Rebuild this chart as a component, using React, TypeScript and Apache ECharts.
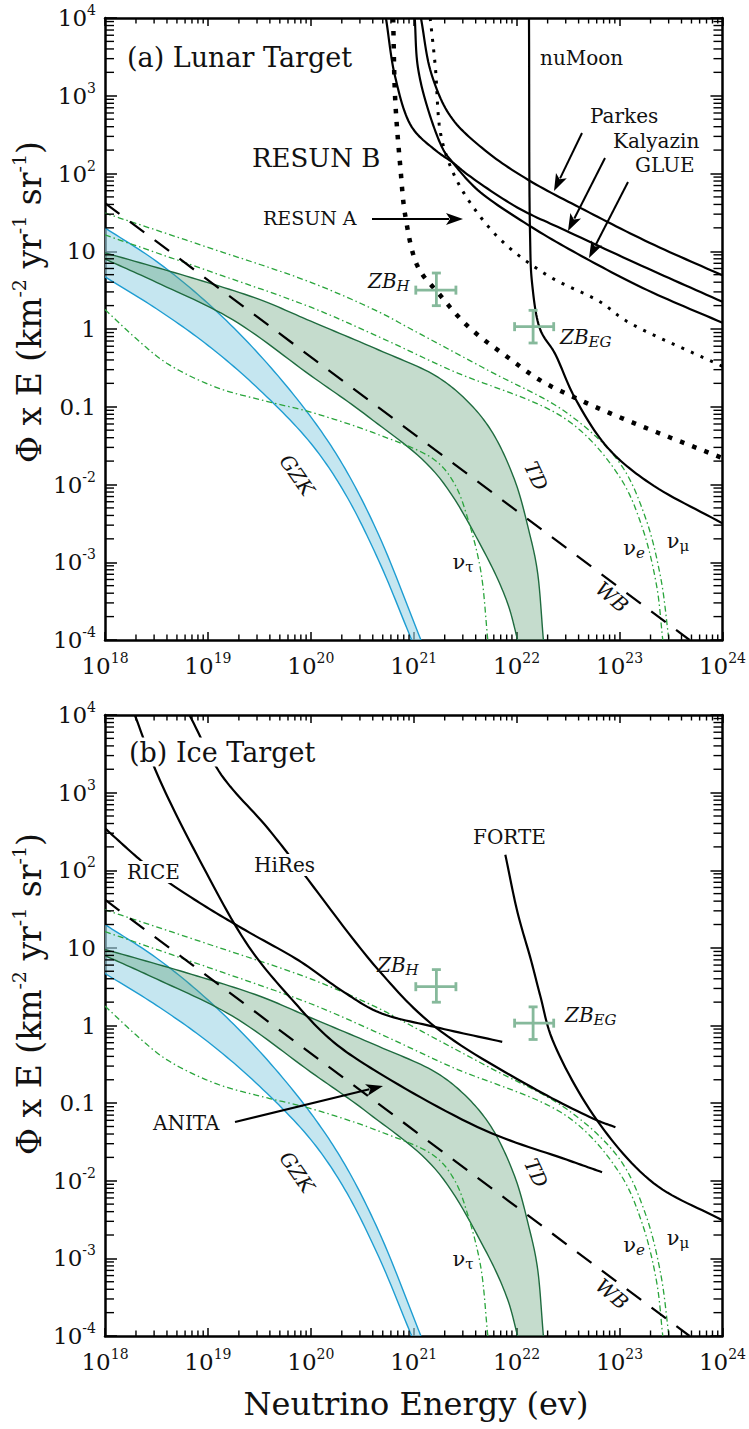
import React, { useEffect, useRef } from "react";
import * as echarts from "echarts";

// All values are log10: x = log10(E / eV), y = log10(flux)
const X_TICKS = [18, 19, 20, 21, 22, 23, 24];
const Y_TICKS = [-4, -3, -2, -1, 0, 1, 2, 3, 4];
const MINOR_STEPS = [2, 3, 4, 5, 6, 7, 8, 9];

const GZK_UPPER = [[18.0, 1.3], [18.5, 0.87], [19.0, 0.33], [19.5, -0.33], [20.0, -1.13], [20.33, -1.79], [20.66, -2.65], [21.07, -4.0]];
const GZK_LOWER = [[18.0, 0.67], [18.5, 0.26], [19.0, -0.21], [19.5, -0.78], [20.0, -1.47], [20.33, -2.11], [20.66, -2.98], [20.98, -4.0]];
const TD_UPPER = [[18.0, 0.98], [18.79, 0.68], [19.5, 0.38], [20.0, 0.1], [20.66, -0.27], [21.21, -0.6], [21.5, -0.9], [21.75, -1.3], [21.98, -1.94], [22.12, -2.6], [22.2, -3.1], [22.26, -4.0]];
const TD_LOWER = [[18.0, 0.9], [18.5, 0.6], [19.24, 0.12], [20.0, -0.6], [20.56, -1.13], [21.21, -1.85], [21.69, -2.88], [21.91, -3.52], [22.01, -4.0]];
const WB = [[18.0, 1.62], [23.68, -4.0]];
const NU_TAU = [[18.0, 0.25], [18.3, -0.12], [18.6, -0.44], [19.08, -0.75], [19.57, -0.93], [20.0, -1.07], [20.66, -1.36], [21.21, -1.69], [21.4, -2.0], [21.53, -2.46], [21.65, -3.1], [21.72, -4.0]];
const NU_MU = [[18.0, 1.49], [19.0, 1.05], [20.0, 0.6], [20.66, 0.22], [21.0, -0.02], [21.72, -0.53], [22.49, -1.08], [23.0, -1.72], [23.25, -2.42], [23.4, -3.2], [23.48, -4.0]];
const NU_E = [[18.0, 1.21], [19.0, 0.75], [20.0, 0.28], [20.66, -0.1], [21.36, -0.53], [22.49, -1.17], [23.0, -1.9], [23.22, -2.55], [23.36, -3.3], [23.42, -4.0]];

// Panel (a) lunar experiments
const RESUN_B = [[20.8, 4.0], [20.82, 2.95], [20.87, 2.08], [20.92, 1.44], [21.04, 0.8], [21.24, 0.46], [21.53, 0.03], [21.91, -0.36], [22.23, -0.66], [22.66, -0.94], [23.14, -1.21], [24.0, -1.66]];
const RESUN_A = [[21.16, 4.0], [21.21, 3.37], [21.26, 2.52], [21.36, 2.08], [21.53, 1.66], [21.85, 1.14], [22.3, 0.69], [22.81, 0.35], [23.07, 0.1], [24.0, -0.48]];
const NUMOON = [[22.12, 4.0], [22.13, 1.23], [22.15, 0.59], [22.23, -0.01], [22.37, -0.31], [22.56, -0.87], [22.88, -1.52], [23.29, -1.98], [24.0, -2.5]];
const PARKES = [[21.07, 4.0], [21.17, 3.29], [21.36, 2.73], [21.69, 2.3], [22.11, 1.92], [22.66, 1.53], [23.29, 1.11], [24.0, 0.69]];
const KALYAZIN = [[20.73, 4.0], [20.82, 3.24], [20.98, 2.6], [21.21, 2.3], [21.38, 2.14], [21.53, 1.98], [22.01, 1.56], [22.47, 1.27], [23.27, 0.78], [24.0, 0.35]];
const GLUE = [[21.01, 4.0], [21.04, 3.37], [21.14, 2.82], [21.29, 2.3], [21.38, 2.14], [21.62, 1.79], [22.11, 1.34], [22.67, 0.91], [23.27, 0.5], [24.0, 0.08]];

// Panel (b) ice / other experiments
const RICE = [[18.0, 2.54], [18.31, 2.17], [18.56, 1.9], [18.92, 1.58], [19.4, 1.2], [19.88, 0.84], [20.3, 0.45], [20.66, 0.17], [21.21, -0.02], [21.86, -0.21]];
const HIRES = [[18.82, 4.0], [19.13, 3.23], [19.57, 2.56], [19.88, 2.04], [20.66, 0.71], [21.21, -0.02], [22.14, -0.79], [22.78, -1.22], [22.96, -1.31]];
const ANITA = [[18.29, 4.0], [18.51, 3.23], [18.92, 2.13], [19.4, 1.01], [19.82, 0.33], [20.2, -0.19], [20.66, -0.61], [21.69, -1.35], [22.49, -1.73], [22.83, -1.89]];
const FORTE = [[21.89, 2.2], [22.01, 1.45], [22.14, 0.84], [22.23, 0.38], [22.35, -0.19], [22.78, -1.22], [23.33, -2.03], [24.0, -2.51]];

// Z-burst points: [x, y, xLow, xHigh, yLow, yHigh]
const ZB_H = [21.22, 0.5, 21.02, 21.41, 0.3, 0.72];
const ZB_EG = [22.16, 0.03, 21.98, 22.36, -0.18, 0.24];

const FONT = "'DejaVu Serif', serif";
const INK = "#111";
const BLUE = "#1e9dd2";
const BLUE_FILL = "rgba(158,213,230,0.6)";
const GREEN_DARK = "#1f6b3f";
const GREEN_FILL = "rgba(89,155,112,0.35)";
const NU_GREEN = "#2aa53c";
const ZB_COLOR = "#86b99b";

function smoothPts(pts: number[][], n = 14): number[][] {
  const N = pts.length;
  if (N < 3) return pts;
  const get = (i: number) => {
    if (i < 0) return [2 * pts[0][0] - pts[1][0], 2 * pts[0][1] - pts[1][1]];
    if (i >= N) return [2 * pts[N - 1][0] - pts[N - 2][0], 2 * pts[N - 1][1] - pts[N - 2][1]];
    return pts[i];
  };
  const d = (a: number[], b: number[]) => Math.max(Math.pow(Math.hypot(b[0] - a[0], b[1] - a[1]), 0.5), 1e-4);
  const out: number[][] = [];
  for (let i = 0; i < N - 1; i++) {
    const p0 = get(i - 1), p1 = get(i), p2 = get(i + 1), p3 = get(i + 2);
    const t0 = 0, t1 = d(p0, p1), t2 = t1 + d(p1, p2), t3 = t2 + d(p2, p3);
    for (let k = 0; k < n; k++) {
      const t = t1 + ((t2 - t1) * k) / n;
      const L = (a: number[], b: number[], ta: number, tb: number) => [
        ((tb - t) * a[0] + (t - ta) * b[0]) / (tb - ta),
        ((tb - t) * a[1] + (t - ta) * b[1]) / (tb - ta),
      ];
      const A1 = L(p0, p1, t0, t1), A2 = L(p1, p2, t1, t2), A3 = L(p2, p3, t2, t3);
      const B1 = L(A1, A2, t0, t2), B2 = L(A2, A3, t1, t3);
      out.push(L(B1, B2, t1, t2));
    }
  }
  out.push(pts[N - 1]);
  return out;
}

function curve(name: string, pts: number[][], g: number, style: any) {
  return {
    type: "custom",
    name,
    coordinateSystem: "cartesian2d",
    xAxisIndex: g * 2,
    yAxisIndex: g * 2,
    clip: true,
    silent: true,
    z: 3,
    data: pts,
    renderItem: (params: any, api: any) => {
      if (params.dataIndex !== 0) return null;
      const px = smoothPts(pts.map((p) => api.coord(p)));
      return { type: "polyline", shape: { points: px }, style: { fill: "none", ...style } };
    },
  };
}

function band(name: string, upper: number[][], lower: number[][], g: number, fill: string, stroke: string) {
  return {
    type: "custom",
    name,
    coordinateSystem: "cartesian2d",
    xAxisIndex: g * 2,
    yAxisIndex: g * 2,
    clip: true,
    silent: true,
    z: 2,
    data: upper.concat(lower),
    renderItem: (params: any, api: any) => {
      if (params.dataIndex !== 0) return null;
      const u = smoothPts(upper.map((p) => api.coord(p)));
      const l = smoothPts(lower.map((p) => api.coord(p)));
      return {
        type: "group",
        children: [
          { type: "polygon", shape: { points: u.concat(l.slice().reverse()) }, style: { fill, stroke: "none" } },
          { type: "polyline", shape: { points: u }, style: { fill: "none", stroke, lineWidth: 1.4 } },
          { type: "polyline", shape: { points: l }, style: { fill: "none", stroke, lineWidth: 1.4 } },
        ],
      };
    },
  };
}

function crosses(g: number) {
  return {
    type: "custom",
    name: "ZB",
    coordinateSystem: "cartesian2d",
    xAxisIndex: g * 2,
    yAxisIndex: g * 2,
    silent: true,
    z: 4,
    dimensions: ["x", "y", "x0", "x1", "y0", "y1"],
    encode: { x: 0, y: 1 },
    data: [ZB_H, ZB_EG],
    renderItem: (params: any, api: any) => {
      const x = api.value(0), y = api.value(1);
      const L = api.coord([api.value(2), y]), R = api.coord([api.value(3), y]);
      const B = api.coord([x, api.value(4)]), T = api.coord([x, api.value(5)]);
      const c = 4.5;
      const st = { stroke: ZB_COLOR, lineWidth: 2.8 };
      const ln = (x1: number, y1: number, x2: number, y2: number) => ({ type: "line", shape: { x1, y1, x2, y2 }, style: st });
      return {
        type: "group",
        children: [
          ln(L[0], L[1], R[0], R[1]),
          ln(B[0], B[1], T[0], T[1]),
          ln(L[0], L[1] - c, L[0], L[1] + c),
          ln(R[0], R[1] - c, R[0], R[1] + c),
          ln(T[0] - c, T[1], T[0] + c, T[1]),
          ln(B[0] - c, B[1], B[0] + c, B[1]),
        ],
      };
    },
  };
}

function minorTicks(g: number) {
  const rows: number[][] = [];
  X_TICKS.slice(0, -1).forEach((d) => MINOR_STEPS.forEach((k) => rows.push([d + Math.log10(k), -4, 0])));
  Y_TICKS.slice(0, -1).forEach((d) => MINOR_STEPS.forEach((k) => rows.push([18, d + Math.log10(k), 1])));
  return {
    type: "custom",
    name: "minor",
    coordinateSystem: "cartesian2d",
    xAxisIndex: g * 2,
    yAxisIndex: g * 2,
    silent: true,
    z: 5,
    data: rows,
    renderItem: (params: any, api: any) => {
      const cs = params.coordSys;
      const p = api.coord([api.value(0), api.value(1)]);
      const st = { stroke: "#000", lineWidth: 1.4 };
      if (api.value(2) === 0) {
        const b = cs.y + cs.height, t = cs.y;
        return {
          type: "group",
          children: [
            { type: "line", shape: { x1: p[0], y1: b, x2: p[0], y2: b - 5.5 }, style: st },
            { type: "line", shape: { x1: p[0], y1: t, x2: p[0], y2: t + 5.5 }, style: st },
          ],
        };
      }
      const l = cs.x, r = cs.x + cs.width;
      return {
        type: "group",
        children: [
          { type: "line", shape: { x1: l, y1: p[1], x2: l + 9, y2: p[1] }, style: st },
          { type: "line", shape: { x1: r, y1: p[1], x2: r - 9, y2: p[1] }, style: st },
        ],
      };
    },
  };
}

const RICH = {
  b: { fontFamily: FONT, fontSize: 23, lineHeight: 30, color: INK },
  s: { fontFamily: FONT, fontSize: 14, lineHeight: 16, verticalAlign: "top", color: INK },
};

function xLabel(v: number) {
  return `{b|10}{s|${Math.round(v)}}`;
}
function yLabel(v: number) {
  const r = Math.round(v);
  if (r === 0) return "{b|1}";
  if (r === 1) return "{b|10}";
  if (r === -1) return "{b|0.1}";
  return `{b|10}{s|${r}}`;
}

const AXIS_LINE = { show: true, onZero: false, lineStyle: { color: "#000", width: 2.5 } };

function xAxes(g: number) {
  const base = {
    type: "value",
    gridIndex: g,
    min: 18,
    max: 24,
    interval: 1,
    axisLine: AXIS_LINE,
    axisTick: { show: true, inside: true, length: 8, lineStyle: { color: "#000", width: 1.5 } },
    splitLine: { show: false },
  };
  return [
    { ...base, position: "bottom", axisLabel: { show: true, margin: 11, formatter: xLabel, rich: RICH, showMinLabel: true, showMaxLabel: true, hideOverlap: false } },
    { ...base, position: "top", axisLabel: { show: false } },
  ];
}
function yAxes(g: number) {
  const base = {
    type: "value",
    gridIndex: g,
    min: -4,
    max: 4,
    interval: 1,
    axisLine: AXIS_LINE,
    axisTick: { show: true, inside: true, length: 12, lineStyle: { color: "#000", width: 1.5 } },
    splitLine: { show: false },
  };
  return [
    { ...base, position: "left", axisLabel: { show: true, margin: 9, formatter: yLabel, rich: RICH, showMinLabel: true, showMaxLabel: true, hideOverlap: false } },
    { ...base, position: "right", axisLabel: { show: false } },
  ];
}

function txt(text: string, x: number, y: number, size: number, o: any = {}) {
  return {
    type: "text",
    x,
    y,
    z: 100,
    rotation: o.rot || 0,
    style: {
      text,
      fontFamily: FONT,
      fontSize: size,
      fontStyle: o.italic ? "italic" : "normal",
      fill: INK,
      align: o.align || "left",
      verticalAlign: "middle",
      backgroundColor: o.bg,
      padding: o.bg ? [1, 3] : 0,
      rich: o.rich,
    },
  };
}

function arrow(x1: number, y1: number, x2: number, y2: number) {
  const dx = x2 - x1, dy = y2 - y1;
  const len = Math.hypot(dx, dy);
  const ux = dx / len, uy = dy / len;
  const hl = 17, hw = 6;
  const bx = x2 - ux * hl, by = y2 - uy * hl;
  return [
    { type: "line", z: 100, shape: { x1, y1, x2: bx + ux * 3, y2: by + uy * 3 }, style: { stroke: "#000", lineWidth: 2 } },
    {
      type: "polygon",
      z: 100,
      shape: { points: [[x2, y2], [bx - uy * hw, by + ux * hw], [bx + ux * 4, by + uy * 4], [bx + uy * hw, by - ux * hw]] },
      style: { fill: "#000" },
    },
  ];
}

const ZB_RICH = {
  z: { fontFamily: FONT, fontSize: 20, fontStyle: "italic", lineHeight: 24, color: INK },
  s: { fontFamily: FONT, fontSize: 15, fontStyle: "italic", lineHeight: 12, verticalAlign: "bottom", color: INK },
};
const NU_RICH = (italicSub: boolean) => ({
  n: { fontFamily: FONT, fontSize: 21, lineHeight: 24, color: INK },
  s: { fontFamily: FONT, fontSize: 15, fontStyle: italicSub ? "italic" : "normal", lineHeight: 12, verticalAlign: "bottom", color: INK },
});
const YT_RICH = {
  b: { fontFamily: FONT, fontSize: 33, lineHeight: 40, color: INK },
  s: { fontFamily: FONT, fontSize: 19, lineHeight: 21, verticalAlign: "top", color: INK },
};
const Y_TITLE = "{b|\u03A6 x E (km}{s|-2}{b| yr}{s|-1}{b| sr}{s|-1}{b|)}";

function panelLabels(g: number) {
  const dy = g === 0 ? 0 : 697;
  return [
    txt("GZK", 297, 475 + dy, 20, { italic: true, align: "center", rot: -0.96 }),
    txt("TD", 536, 476 + dy, 20, { italic: true, align: "center", rot: -1.13 }),
    txt("WB", 612, 597 + dy, 20, { italic: true, align: "center", rot: -0.7 }),
    txt("{n|\u03BD}{s|\u03C4}", 463, 562 + dy, 21, { align: "center", rich: NU_RICH(false) }),
    txt("{n|\u03BD}{s|e}", 634, 548 + dy, 21, { align: "center", rich: NU_RICH(true) }),
    txt("{n|\u03BD}{s|\u03BC}", 678, 541 + dy, 21, { align: "center", rich: NU_RICH(false) }),
    txt(Y_TITLE, 29, g === 0 ? 302 : 994, 33, { align: "center", rot: Math.PI / 2, rich: YT_RICH }),
  ];
}

export default function App() {
  const ref = useRef<HTMLDivElement>(null);
  useEffect(() => {
    if (!ref.current) return;
    const chart = echarts.init(ref.current, undefined, { renderer: "svg" });
    const nuStyle = { stroke: NU_GREEN, lineWidth: 1.3, lineDash: [6, 3, 1.5, 3] };
    const black = { stroke: "#000", lineWidth: 2.2 };
    const shared = (g: number) => [
      band("GZK", GZK_UPPER, GZK_LOWER, g, BLUE_FILL, BLUE),
      band("TD", TD_UPPER, TD_LOWER, g, GREEN_FILL, GREEN_DARK),
      curve("nu_tau", NU_TAU, g, nuStyle),
      curve("nu_e", NU_E, g, nuStyle),
      curve("nu_mu", NU_MU, g, nuStyle),
      curve("WB", WB, g, { stroke: "#000", lineWidth: 2.2, lineDash: [18, 13] }),
      crosses(g),
      minorTicks(g),
    ];
    const series = [
      ...shared(0),
      curve("RESUN B", RESUN_B, 0, { stroke: "#000", lineWidth: 4.5, lineDash: [4.5, 8.5] }),
      curve("RESUN A", RESUN_A, 0, { stroke: "#000", lineWidth: 3, lineDash: [3, 7.5] }),
      curve("nuMoon", NUMOON, 0, black),
      curve("Parkes", PARKES, 0, black),
      curve("Kalyazin", KALYAZIN, 0, black),
      curve("GLUE", GLUE, 0, black),
      ...shared(1),
      curve("RICE", RICE, 1, black),
      curve("HiRes", HIRES, 1, black),
      curve("ANITA", ANITA, 1, black),
      curve("FORTE", FORTE, 1, black),
    ];
    const graphics = [
      txt("(a) Lunar Target", 127, 57, 27),
      txt("RESUN B", 252, 158, 26),
      txt("RESUN A", 263, 218, 19),
      ...arrow(372, 219, 463, 219),
      txt("nuMoon", 540, 58, 20),
      txt("Parkes", 590, 116, 20),
      txt("Kalyazin", 613, 141, 20),
      txt("GLUE", 635, 165, 20),
      ...arrow(582, 133, 554, 191),
      ...arrow(605, 158, 568, 231),
      ...arrow(628, 182, 589, 258),
      txt("{z|ZB}{s|H}", 368, 281, 20, { rich: ZB_RICH }),
      txt("{z|ZB}{s|EG}", 560, 337, 20, { rich: ZB_RICH }),
      ...panelLabels(0),
      txt("(b) Ice Target", 126, 752, 27, { bg: "#fff" }),
      txt("RICE", 124, 872, 20, { bg: "#fff" }),
      txt("HiRes", 251, 865, 20, { bg: "#fff" }),
      txt("FORTE", 473, 837, 20),
      txt("ANITA", 153, 1123, 20),
      ...arrow(235, 1122, 383, 1086),
      txt("{z|ZB}{s|H}", 377, 965, 20, { rich: ZB_RICH }),
      txt("{z|ZB}{s|EG}", 565, 1015, 20, { rich: ZB_RICH }),
      ...panelLabels(1),
      txt("Neutrino Energy (ev)", 416, 1404, 32, { align: "center" }),
    ];
    chart.setOption({
      animation: false,
      backgroundColor: "#fff",
      grid: [
        { left: 105, top: 18, width: 621, height: 622, containLabel: false },
        { left: 105, top: 715, width: 621, height: 621, containLabel: false },
      ],
      xAxis: [...xAxes(0), ...xAxes(1)],
      yAxis: [...yAxes(0), ...yAxes(1)],
      series,
      graphic: { elements: graphics },
    });
    return () => chart.dispose();
  }, []);
  return <div ref={ref} style={{ position: "absolute", left: 0, top: 0, width: 749, height: 1429 }} />;
}
